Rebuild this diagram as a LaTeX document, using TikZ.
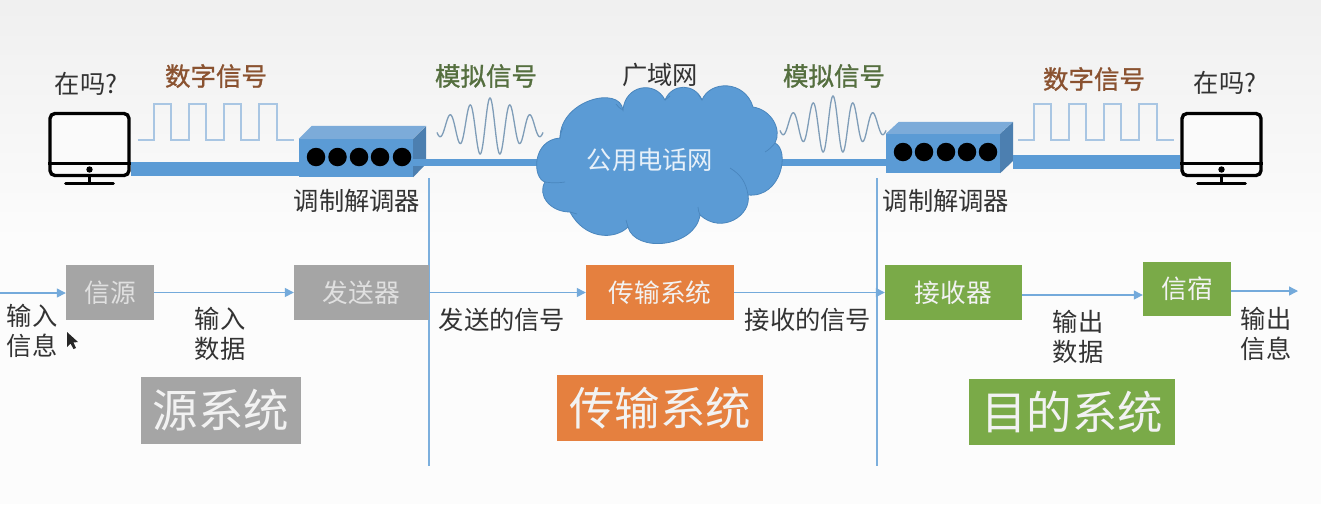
\documentclass[tikz,border=0pt]{standalone}
\usepackage{fontspec}
\setmainfont{Noto Sans CJK SC}
\newfontfamily\sigfont[FakeBold=1.2]{Noto Sans CJK SC}
\usetikzlibrary{arrows.meta,calc}
\definecolor{lineblue}{HTML}{5B9BD5}
\definecolor{cloudedge}{HTML}{4A86BD}
\definecolor{topface}{HTML}{7CABD9}
\definecolor{sideface}{HTML}{4C7FB0}
\definecolor{wavesq}{HTML}{A9C6E3}
\definecolor{waveana}{HTML}{7F9DB8}
\definecolor{graybox}{HTML}{A5A5A5}
\definecolor{orangebox}{HTML}{E5803F}
\definecolor{greenbox}{HTML}{7AAA48}
\definecolor{brownlab}{HTML}{8A5230}
\definecolor{greenlab}{HTML}{556F3F}
\definecolor{darktext}{HTML}{333333}
\tikzset{
  x=1pt,y=-1pt,
  flowbox/.style={draw=none,inner sep=0pt,text=white!88!black,font=\fontsize{25.7}{30}\selectfont},
  sysbox/.style={draw=none,inner sep=0pt,text=white!95!black,font=\fontsize{45.5}{50}\selectfont},
  lab/.style={inner sep=0pt,text=darktext,align=center,font=\fontsize{25.3}{30}\selectfont},
  sig/.style={inner sep=0pt,font=\sigfont\fontsize{25.5}{30}\selectfont},
  flow/.style={draw=lineblue!85,line width=1.3pt,-{Triangle[length=9pt,width=9pt]}},
  divider/.style={draw=lineblue!80,line width=1.2pt},
  thickl/.style={draw=lineblue,line width=14pt},
  thinl/.style={draw=lineblue,line width=7pt},
  monframe/.style={draw=black,line width=3.4pt,rounded corners=5pt,inner sep=0pt,minimum width=79pt,minimum height=62pt,fill=white!98!black},
  modemfront/.style={fill=lineblue,draw=none,inner sep=0pt},
  dotb/.style={circle,fill=black,inner sep=0pt,minimum size=18.5pt},
  squarew/.style={draw=wavesq,line width=1.4pt},
  analogw/.style={draw=waveana,line width=1.3pt},
}
\begin{document}
\begin{tikzpicture}
\useasboundingbox (0,0) rectangle (1321,504);
\fill[white!99!black] (0,0) rectangle (1321,504);
\shade[top color=black!6,bottom color=white!99!black] (0,0) rectangle (1321,250);

% dividers
\coordinate (d1a) at (429,178); \coordinate (d1b) at (429,466);
\coordinate (d2a) at (877,178); \coordinate (d2b) at (877,466);
\draw[divider] (d1a) -- (d1b);
\draw[divider] (d2a) -- (d2b);

% monitors
\node[monframe] (monL) at (89.5,144.5) {};
\node[monframe] (monR) at (1221.5,144.5) {};
\foreach \m in {monL,monR}{
  \draw[black,line width=3pt] ($(\m.west)+(0,18.5)$) -- ($(\m.east)+(0,18.5)$);
  \fill[black] ($(\m.center)+(0,25)$) circle (3.2);
  \draw[black,line width=3pt] ($(\m.south)$) -- ($(\m.south)+(0,6)$);
  \draw[black,line width=2.6pt,line cap=round] ($(\m.south)+(-24,6)$) -- ($(\m.south)+(24,6)$);
}

% modems
\node[modemfront,minimum width=114pt,minimum height=38pt] (modL) at (356,158) {};
\node[modemfront,minimum width=114pt,minimum height=39pt] (modR) at (943,153.5) {};
\fill[topface] (modL.north west) -- ++(13,-13) -- ++(114,0) -- (modL.north east) -- cycle;
\fill[sideface] (modL.north east) -- ++(13,-13) -- ++(0,38) -- (modL.south east) -- cycle;
\fill[topface] (modR.north west) -- ++(13,-12) -- ++(114,0) -- (modR.north east) -- cycle;
\fill[sideface] (modR.north east) -- ++(13,-12) -- ++(0,39) -- (modR.south east) -- cycle;
\foreach \i/\d in {1/-40,2/-18.5,3/3,4/24,5/46}{
  \node[dotb] (dl\i) at ($(modL.center)+(\d,-1)$) {};
}
\foreach \i/\d in {1/-40,2/-19,3/3,4/24,5/45}{
  \node[dotb] (dr\i) at ($(modR.center)+(\d,-1.5)$) {};
}

% cloud
\coordinate (cloud) at (655,162);
\coordinate (yl) at (0,162);
\draw[thinl] (modL.east |- yl) -- (cloud);
\draw[thinl] (cloud) -- (modR.west |- yl);
\coordinate (t1) at (0,169);
\coordinate (t2) at (0,161.5);
\draw[thickl] (monL.east |- t1) -- (modL.west |- t1);
\draw[thickl] (monR.west |- t2) -- ($(modR.east |- t2)+(13,0)$);
\draw[fill=lineblue,draw=cloudedge,line width=.8pt]
  (560,138) .. controls (560,100) and (620,85) .. (623,110)
  .. controls (625,85) and (655,80) .. (665,100)
  .. controls (672,83) and (695,83) .. (702,100)
  .. controls (710,80) and (745,80) .. (753,107)
  .. controls (772,110) and (782,130) .. (775,143)
  .. controls (790,150) and (782,198) .. (748,195)
  .. controls (752,215) and (722,235) .. (700,215)
  .. controls (695,248) and (635,253) .. (628,227)
  .. controls (615,240) and (585,240) .. (570,212)
  .. controls (550,212) and (537,195) .. (545,182)
  .. controls (532,178) and (532,140) .. (560,138) -- cycle;
\draw[cloudedge,line width=.7pt]
  (560,138) to[bend left=10] (563,128)
  (623,110) to[bend left=15] (616,104)
  (665,100) to[bend right=10] (670,96)
  (702,100) to[bend left=10] (698,94)
  (775,143) to[bend left=10] (765,152)
  (730,168) to[bend left=25] (748,195)
  (700,215) to[bend left=10] (698,207)
  (628,227) to[bend left=10] (626,220)
  (570,212) to[bend right=10] (577,214)
  (545,182) to[bend right=8] (565,182);

% square waves
\draw[squarew] (137.5,140) -- (154,140) -- (154,104) -- (171,104) -- (171,140) -- (189,140) -- (189,104) -- (206,104) -- (206,140) -- (224,140) -- (224,104) -- (241,104) -- (241,140) -- (259,140) -- (259,104) -- (277,104) -- (277,140) -- (293.5,140);
\draw[squarew] (1018,140) -- (1034,140) -- (1034,104) -- (1051,104) -- (1051,140) -- (1069,140) -- (1069,104) -- (1086,104) -- (1086,140) -- (1104,140) -- (1104,104) -- (1121,104) -- (1121,140) -- (1139,140) -- (1139,104) -- (1157,104) -- (1157,140) -- (1174,140);

% analog waves
\draw[analogw] plot[domain=-53:53,samples=220,smooth] ({\x+490},{127-(8+21*exp(-0.001*\x*\x))*cos(18*\x)});
\draw[analogw] plot[domain=-53:53,samples=220,smooth] ({\x+833},{125-(8+21*exp(-0.001*\x*\x))*cos(18*\x)});

% top labels
\node[lab] (q1) at (86,84) {在吗?};
\node[lab] (q2) at (1225,83) {在吗?};
\node[sig,text=brownlab] (s1) at (216,76) {数字信号};
\node[sig,text=brownlab] (s2) at (1094,79) {数字信号};
\node[sig,text=greenlab] (s3) at (486,76) {模拟信号};
\node[sig,text=greenlab] (s4) at (834,76) {模拟信号};
\node[lab] (wan) at (660,75) {广域网};
\node[lab,text=white!85!lineblue] (pstn) at (650,160) {公用电话网};
\node[lab] (m1) at (357,201) {调制解调器};
\node[lab] (m2) at (946,201) {调制解调器};

% flow boxes
\node[flowbox,fill=graybox,minimum width=88pt,minimum height=55pt] (src) at (110,292.5) {信源};
\node[flowbox,fill=graybox,minimum width=135pt,minimum height=55pt] (tx) at (361.5,292.5) {发送器};
\node[flowbox,fill=orangebox,minimum width=148pt,minimum height=55pt,text=white!95!black] (sys) at (660,292.5) {传输系统};
\node[flowbox,fill=greenbox,minimum width=137pt,minimum height=55pt,text=white!95!black] (rx) at (953.5,292.5) {接收器};
\node[flowbox,fill=greenbox,minimum width=88pt,minimum height=54pt,text=white!95!black] (dst) at (1187,289) {信宿};
\coordinate (in) at (0,293);
\coordinate (out) at (1298,291);
\coordinate (yr) at (0,295);
\draw[flow] (in) -- (src.west |- in);
\draw[flow] (src) -- (tx);
\draw[flow] (tx) -- (sys);
\draw[flow] (sys) -- (rx);
\draw[flow] (rx.east |- yr) -- (dst.west |- yr);
\draw[flow] (dst.east |- out) -- (out);

% flow labels
\node[lab] (l1) at (32,331) {输入\\信息};
\node[lab] (l2) at (220,334) {输入\\数据};
\node[lab] (l3) at (502,320) {发送的信号};
\node[lab] (l4) at (808,320) {接收的信号};
\node[lab] (l5) at (1078,337) {输出\\数据};
\node[lab] (l6) at (1266,334) {输出\\信息};

% system boxes
\node[sysbox,fill=graybox,minimum width=160pt,minimum height=67pt] (b1) at (221,410.5) {源系统};
\node[sysbox,fill=orangebox,minimum width=206pt,minimum height=66pt] (b2) at (660,408) {传输系统};
\node[sysbox,fill=greenbox,minimum width=206pt,minimum height=66pt] (b3) at (1072,412) {目的系统};

% pointer
\fill[black!85] (67,332) -- (67,347) -- (70.5,343.5) -- (73.5,349) -- (76,348) -- (73.5,342.5) -- (78,342) -- cycle;
\end{tikzpicture}
\end{document}
